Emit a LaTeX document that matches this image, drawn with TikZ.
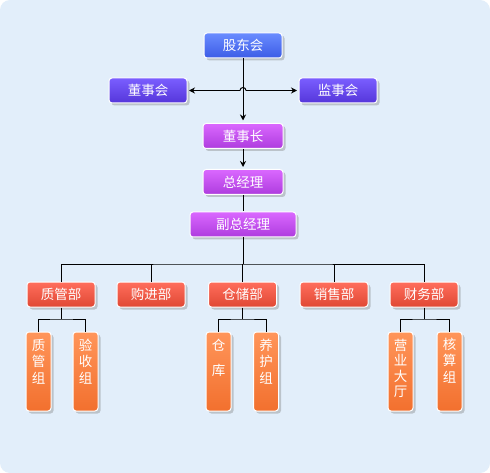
\documentclass[tikz,border=0pt]{standalone}
\usepackage{fontspec}
\setmainfont{Noto Sans CJK SC}
\usetikzlibrary{shadows,arrows.meta,calc}
\definecolor{bg}{HTML}{E2EEFA}
\definecolor{blueT}{HTML}{6A8CFF}
\definecolor{blueB}{HTML}{3C5CE6}
\definecolor{violT}{HTML}{7A5EFF}
\definecolor{violB}{HTML}{5536DA}
\definecolor{magT}{HTML}{DA68FF}
\definecolor{magB}{HTML}{AE3CDE}
\definecolor{redT}{HTML}{FF6E5C}
\definecolor{redB}{HTML}{E04834}
\definecolor{orT}{HTML}{FF955A}
\definecolor{orB}{HTML}{F2702E}
\newcommand\vtext[2][7pt]{\parbox[c][79pt][t]{25pt}{\centering\vspace*{#1}#2}}
\begin{document}
\begin{tikzpicture}[x=1pt,y=-1pt,
  box/.style={draw=white, line width=1pt, rounded corners=3pt, text=white,
    font=\fontsize{13.5}{16.5}\selectfont, minimum height=25pt, inner sep=0pt,
    drop shadow={shadow xshift=2.5pt, shadow yshift=-2.5pt, fill=black!55, opacity=0.35}},
  bluebox/.style={box, top color=blueT, bottom color=blueB, minimum width=78pt},
  violbox/.style={box, top color=violT, bottom color=violB, minimum width=78pt},
  magbox/.style={box, top color=magT, bottom color=magB, minimum width=80pt},
  deptbox/.style={box, top color=redT, bottom color=redB, minimum width=68pt},
  subbox/.style={box, top color=orT, bottom color=orB, minimum width=25pt, minimum height=79pt},
  conn/.style={black, line width=1pt},
  arr/.style={conn, -{Stealth[length=6pt,width=6pt]}, shorten >=1.5pt}
]
\useasboundingbox (0,0) rectangle (490,473);
\fill[white] (0,0) rectangle (490,473);
\fill[bg, rounded corners=10pt] (0,0) rectangle (490,473);

% top levels
\node[bluebox] (gd) at (243,45.5) {股东会};
\node[violbox] (dsh) at (148,90.5) {董事会};
\node[violbox] (jsh) at (338,90.5) {监事会};
\node[magbox] (dsz) at (243,136) {董事长};
\node[magbox] (zjl) at (243,182) {总经理};
\node[magbox, minimum width=106pt] (fzjl) at (243,224.5) {副总经理};

% departments
\node[deptbox] (d1) at (61,294.5) {质管部};
\node[deptbox] (d2) at (151,294.5) {购进部};
\node[deptbox] (d3) at (242.5,294.5) {仓储部};
\node[deptbox] (d4) at (334,294.5) {销售部};
\node[deptbox] (d5) at (424,294.5) {财务部};

% sub groups
\node[subbox] (s1) at (38.5,371.5) {\vtext{质\\管\\组}};
\node[subbox] (s2) at (85.5,371.5) {\vtext{验\\收\\组}};
\node[subbox] (s3) at (218.5,371.5) {\vtext{仓\\[8.5pt]库}};
\node[subbox] (s4) at (266,371.5) {\vtext{养\\护\\组}};
\node[subbox] (s5) at (400.5,371.5) {\vtext{营\\[-1pt]业\\[-1pt]大\\[-1pt]厅}};
\node[subbox] (s6) at (449.5,371.5) {\vtext[6pt]{核\\算\\组}};

% connectors top
\draw[arr, shorten >=2.5pt] (gd.south) -- (dsz.north);
\coordinate (hopL) at (240,90.5);
\coordinate (hopR) at (246,90.5);
\draw[conn] (hopL) arc[start angle=180, end angle=360, radius=3];
\draw[arr] (hopL) -- (dsh.east);
\draw[arr] (hopR) -- (jsh.west);
\draw[arr, shorten >=2pt] (dsz.south) -- (zjl.north);
\draw[conn] (zjl.south) -- (fzjl.north);

% department bus
\coordinate (bus) at (243,264);
\draw[conn] (fzjl.south) -- (bus);
\draw[conn] (d1.north) |- (bus) -| (d5.north);
\draw[conn] (d2.north) -- (d2.north |- bus);
\draw[conn] (d3.north) -- (d3.north |- bus);
\draw[conn] (d4.north) -- (d4.north |- bus);

% sub buses
\coordinate (sy) at (0,319);
\draw[conn] (d1.south) -- (d1.south |- sy);
\draw[conn] (s1.north) |- (d1.south |- sy) -| (s2.north);
\draw[conn] (d3.south) -- (d3.south |- sy);
\draw[conn] (s3.north) |- (d3.south |- sy) -| (s4.north);
\draw[conn] (d5.south) -- (d5.south |- sy);
\draw[conn] (s5.north) |- (d5.south |- sy) -| (s6.north);
\end{tikzpicture}
\end{document}
